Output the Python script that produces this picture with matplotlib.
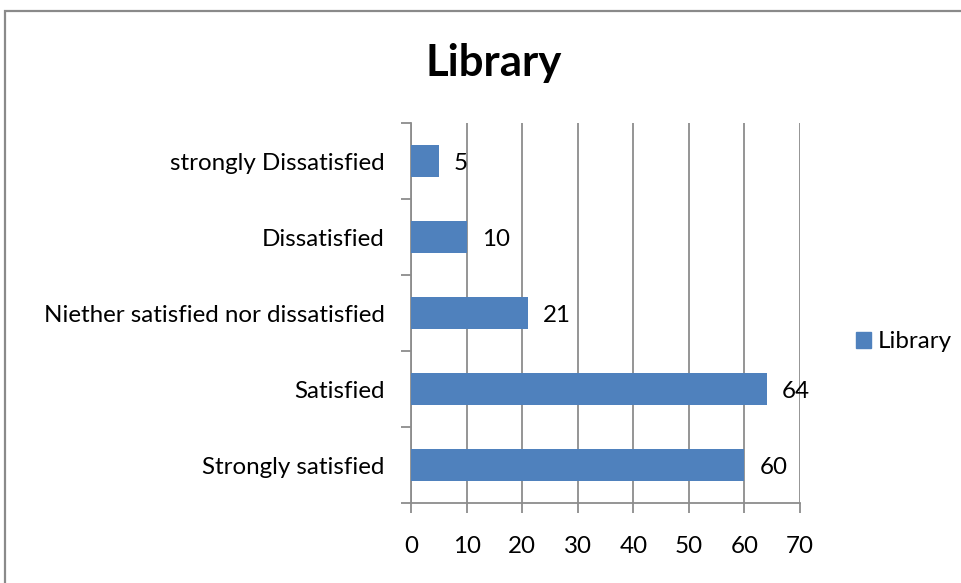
import matplotlib
matplotlib.use("Agg")
import matplotlib.pyplot as plt
from matplotlib.patches import Rectangle, Patch
import numpy as np

categories = [
    "Strongly satisfied",
    "Satisfied",
    "Niether satisfied nor dissatisfied",
    "Dissatisfied",
    "strongly Dissatisfied",
]
values = [60, 64, 21, 10, 5]
x_ticks = [0, 10, 20, 30, 40, 50, 60, 70]
series_name = "Library"

BAR = "#4F81BD"
GRID = "#8C8C8C"
FONT = "Lato"
FS = 17.4

W, H, DPI = 961, 583, 100
fig = plt.figure(figsize=(W / DPI, H / DPI), dpi=DPI)
plt.rcParams["font.family"] = [FONT, "DejaVu Sans"]

# chart-area frame (runs off the right and bottom edges)
fig.patches.append(Rectangle((4.5 / W, -0.2), 1.5, 1 - 10.5 / H + 0.2,
                             transform=fig.transFigure, fill=False,
                             edgecolor="#8A8A8A", linewidth=1.6))

ax = fig.add_axes([411 / W, (H - 503) / H, (800 - 411) / W, (503 - 123) / H])
y = np.arange(len(categories))
ax.barh(y, values, height=0.41, color=BAR, zorder=3)

ax.set_xlim(0, 70)
ax.set_ylim(-0.5, len(categories) - 0.5)

ax.set_xticks(x_ticks)
ax.set_xticklabels([str(t) for t in x_ticks], fontsize=FS)
ax.tick_params(axis="x", direction="out", length=7, width=1.3, color=GRID, pad=17)

# category separators as major ticks, names on minor ticks
ax.set_yticks(np.arange(-0.5, len(categories), 1.0))
ax.set_yticklabels([])
ax.set_yticks(y, minor=True)
ax.set_yticklabels(categories, minor=True, fontsize=FS)
ax.tick_params(axis="y", which="major", direction="out", length=7, width=1.3, color=GRID)
ax.tick_params(axis="y", which="minor", length=0, pad=19)

ax.grid(axis="x", color=GRID, linewidth=1.3, zorder=0)
for s in ["top", "right"]:
    ax.spines[s].set_visible(False)
for s in ["left", "bottom"]:
    ax.spines[s].set_color(GRID)
    ax.spines[s].set_linewidth(1.3)

for yi, v in zip(y, values):
    ax.annotate(str(v), (v, yi), xytext=(11, -2), textcoords="offset points",
                va="center", ha="left", fontsize=FS, zorder=4)

fig.text(494 / W, 1 - 63 / H, "Library", ha="center", va="center",
         fontsize=31.5, fontweight="bold")

fig.legend(handles=[Patch(color=BAR, label=series_name)],
           loc="center left", bbox_to_anchor=(856 / W, 1 - 342 / H),
           frameon=False, fontsize=FS, handlelength=0.6, handleheight=0.6,
           handletextpad=0.3, borderpad=0, borderaxespad=0)

fig.savefig("out.png", dpi=DPI)
